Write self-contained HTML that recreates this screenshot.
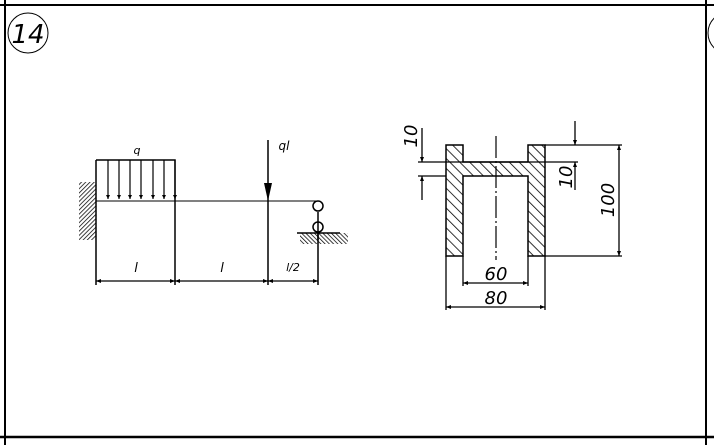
<!DOCTYPE html>
<html><head><meta charset="utf-8"><style>
html,body{margin:0;padding:0;background:#fff;}
svg{display:block;}
text{font-family:"DejaVu Sans","Liberation Sans",sans-serif;font-style:italic;fill:#000;}
</style></head><body>
<svg width="714" height="445" viewBox="0 0 714 445" xmlns="http://www.w3.org/2000/svg">
<defs>
<pattern id="h" patternUnits="userSpaceOnUse" width="7" height="7" patternTransform="rotate(-45)">
<line x1="0" y1="0" x2="0" y2="7" stroke="#000" stroke-width="1.6"/>
</pattern>
<pattern id="h2" patternUnits="userSpaceOnUse" width="3" height="3" patternTransform="rotate(45)">
<line x1="0" y1="0" x2="0" y2="3" stroke="#000" stroke-width="1.5"/>
</pattern>
<pattern id="h3" patternUnits="userSpaceOnUse" width="3" height="3" patternTransform="rotate(-45)">
<line x1="0" y1="0" x2="0" y2="3" stroke="#000" stroke-width="1.5"/>
</pattern>
<marker id="a" viewBox="0 0 10 10" refX="10" refY="5" markerWidth="10" markerHeight="5" orient="auto-start-reverse" markerUnits="userSpaceOnUse">
<path d="M0,1 L10,5 L0,9 z" fill="#000"/>
</marker>
<marker id="s" viewBox="0 0 10 10" refX="10" refY="5" markerWidth="6" markerHeight="4" orient="auto" markerUnits="userSpaceOnUse">
<path d="M0,0 L10,5 L0,10 z" fill="#000"/>
</marker>
</defs>
<!-- frame -->
<line x1="0" y1="5" x2="714" y2="5" stroke="#000" stroke-width="2"/>
<line x1="5" y1="0" x2="5" y2="445" stroke="#000" stroke-width="2"/>
<line x1="706" y1="0" x2="706" y2="445" stroke="#000" stroke-width="2"/>
<line x1="0" y1="437" x2="714" y2="437" stroke="#000" stroke-width="2.5"/>
<circle cx="28" cy="33" r="20" fill="none" stroke="#000" stroke-width="1"/>
<text x="28" y="43" font-size="26" text-anchor="middle" font-family="Liberation Sans" style="font-weight:200">14</text>
<circle cx="729" cy="33" r="21" fill="none" stroke="#000" stroke-width="1"/>

<!-- beam -->
<rect x="79" y="182" width="17" height="58" fill="url(#h2)"/>
<line x1="96" y1="160" x2="96" y2="285" stroke="#000" stroke-width="1.5"/>
<line x1="96" y1="201" x2="318" y2="201" stroke="#000" stroke-width="1"/>
<polyline points="96,160 175,160 175,285" fill="none" stroke="#000" stroke-width="1.5"/>
<g stroke="#000" stroke-width="1.2">
<line x1="108" y1="160" x2="108" y2="199" marker-end="url(#s)"/>
<line x1="119" y1="160" x2="119" y2="199" marker-end="url(#s)"/>
<line x1="130" y1="160" x2="130" y2="199" marker-end="url(#s)"/>
<line x1="141" y1="160" x2="141" y2="199" marker-end="url(#s)"/>
<line x1="153" y1="160" x2="153" y2="199" marker-end="url(#s)"/>
<line x1="164" y1="160" x2="164" y2="199" marker-end="url(#s)"/>
<line x1="175" y1="160" x2="175" y2="199" marker-end="url(#s)"/>
</g>
<line x1="268" y1="140" x2="268" y2="285" stroke="#000" stroke-width="1.5"/>
<path d="M264,183 L272,183 L268,201 z" fill="#000"/>
<line x1="318" y1="212" x2="318" y2="285" stroke="#000" stroke-width="1.5"/>
<circle cx="318" cy="206" r="5" fill="#fff" stroke="#000" stroke-width="1.5"/>
<circle cx="318" cy="227" r="5" fill="#fff" stroke="#000" stroke-width="1.5"/>
<rect x="300" y="233" width="48" height="11" fill="url(#h3)"/>
<line x1="297" y1="233" x2="340" y2="233" stroke="#000" stroke-width="1.5"/>
<line x1="318" y1="222" x2="318" y2="240" stroke="#000" stroke-width="1.5"/>
<g stroke="#000" stroke-width="1.3">
<line x1="96" y1="281" x2="175" y2="281" marker-start="url(#a)" marker-end="url(#a)"/>
<line x1="175" y1="281" x2="268" y2="281" marker-start="url(#a)" marker-end="url(#a)"/>
<line x1="268" y1="281" x2="318" y2="281" marker-start="url(#a)" marker-end="url(#a)"/>
</g>
<text x="137" y="154" font-size="11" text-anchor="middle" font-family="Liberation Serif">q</text>
<text x="284" y="150" font-size="12" text-anchor="middle" font-family="Liberation Serif">ql</text>
<text x="136" y="272" font-size="13" text-anchor="middle" font-family="Liberation Serif">l</text>
<text x="222" y="272" font-size="13" text-anchor="middle" font-family="Liberation Serif">l</text>
<text x="293" y="271" font-size="11" text-anchor="middle" font-family="Liberation Serif">l/2</text>

<!-- section -->
<path d="M446,145 H463 V162 H528 V145 H545 V256 H528 V176 H463 V256 H446 Z" fill="url(#h)" stroke="#000" stroke-width="1.5"/>
<line x1="496" y1="136" x2="496" y2="260" stroke="#000" stroke-width="1.2" stroke-dasharray="22,3,2,3"/>
<g stroke="#000" stroke-width="1.3">
<line x1="418" y1="162" x2="578" y2="162"/>
<line x1="418" y1="176" x2="446" y2="176"/>
<line x1="545" y1="145" x2="622" y2="145"/>
<line x1="545" y1="256" x2="622" y2="256"/>
<line x1="422" y1="128" x2="422" y2="162" marker-end="url(#a)"/>
<line x1="422" y1="200" x2="422" y2="176" marker-end="url(#a)"/>
<line x1="575" y1="121" x2="575" y2="145" marker-end="url(#a)"/>
<line x1="575" y1="190" x2="575" y2="162" marker-end="url(#a)"/>
<line x1="619" y1="145" x2="619" y2="256" marker-start="url(#a)" marker-end="url(#a)"/>
<line x1="463" y1="256" x2="463" y2="286"/>
<line x1="528" y1="256" x2="528" y2="286"/>
<line x1="446" y1="256" x2="446" y2="310"/>
<line x1="545" y1="256" x2="545" y2="310"/>
<line x1="463" y1="283" x2="528" y2="283" marker-start="url(#a)" marker-end="url(#a)"/>
<line x1="446" y1="307" x2="545" y2="307" marker-start="url(#a)" marker-end="url(#a)"/>
</g>
<g font-size="18" font-family="Liberation Sans">
<text x="0" y="0" text-anchor="middle" transform="translate(417,136) rotate(-90)">10</text>
<text x="0" y="0" text-anchor="middle" transform="translate(572,177) rotate(-90)">10</text>
<text x="0" y="0" text-anchor="middle" transform="translate(614,200) rotate(-90)">100</text>
<text x="496" y="280" text-anchor="middle">60</text>
<text x="496" y="304" text-anchor="middle">80</text>
</g>
</svg>
</body></html>
